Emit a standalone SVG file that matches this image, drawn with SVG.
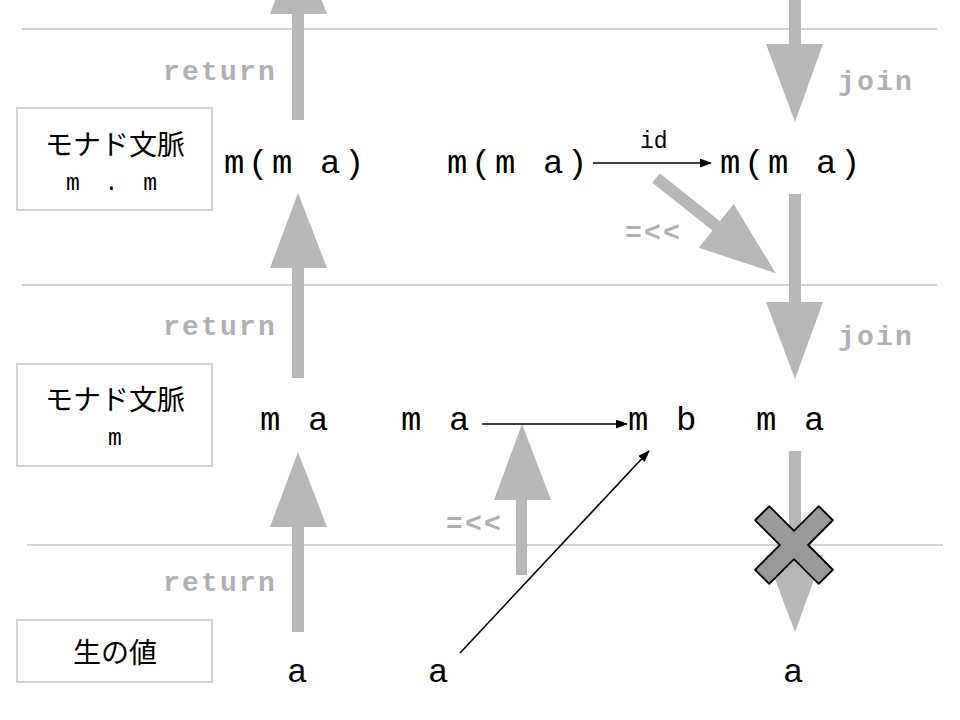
<svg xmlns="http://www.w3.org/2000/svg" width="960" height="720" viewBox="0 0 960 720">
<defs>
<style>
.lane{stroke:#d3d3d3;stroke-width:2;fill:none}
.box{fill:#fff;stroke:#d3d3d3;stroke-width:2}
.ga{fill:#b7b7b7}
.lbl{font-family:"Liberation Mono",monospace;font-weight:bold;fill:#b0b0b0;font-size:28px;letter-spacing:2.2px}
.t{font-family:"Liberation Mono",monospace;font-size:34px;letter-spacing:3.6px;fill:#000}
.jp{font-family:"Liberation Serif","Noto Sans CJK JP",sans-serif;font-size:28px;fill:#000;text-anchor:middle}
.bm{font-family:"Liberation Mono",monospace;font-size:23px;fill:#000}
.thin{stroke:#000;stroke-width:1.6;fill:none;marker-end:url(#ah)}
</style>
<marker id="ah" markerUnits="userSpaceOnUse" markerWidth="12" markerHeight="10" refX="11" refY="4.5" orient="auto">
<path d="M0,0 L12,4.5 L0,9 z" fill="#000"/>
</marker>
</defs>
<rect width="960" height="720" fill="#fff"/>
<g id="lanes">
<line class="lane" x1="22" y1="29" x2="937" y2="29"/>
<line class="lane" x1="22" y1="285" x2="937" y2="285"/>
<line class="lane" x1="27" y1="545" x2="943" y2="545"/>
</g>
<g id="connectors">
<g id="ret1"><rect class="ga" x="292" y="12" width="12" height="108"/><polygon class="ga" points="270,14 327,14 298,-61"/></g>
<g id="ret2"><rect class="ga" x="292" y="266" width="12" height="112"/><polygon class="ga" points="270,268 327,268 298,193"/></g>
<g id="ret3"><rect class="ga" x="292" y="525" width="12" height="107"/><polygon class="ga" points="270,527 327,527 298,452"/></g>
<g id="join1"><rect class="ga" x="789" y="0" width="12" height="46"/><polygon class="ga" points="766,44 823,44 795,122"/></g>
<g id="join2"><rect class="ga" x="789" y="194" width="12" height="110"/><polygon class="ga" points="766,302 823,302 795,379"/></g>
<g id="join3"><rect class="ga" x="789" y="451" width="12" height="106"/><polygon class="ga" points="766,555 823,555 795,632"/></g>
<g id="bind1" transform="translate(656,178) rotate(38.5)"><rect class="ga" x="0" y="-6" width="79" height="12"/><polygon class="ga" points="77,-28 77,28 153,0"/></g>
<g id="bind2"><rect class="ga" x="516" y="498" width="11" height="77"/><polygon class="ga" points="494,500 551,500 522,424"/></g>
<line class="thin" x1="593" y1="163" x2="711" y2="163"/>
<line class="thin" x1="482" y1="424" x2="627" y2="424"/>
<line class="thin" x1="460" y1="653" x2="649" y2="451"/>
</g>
<g id="labels">
<text class="lbl" x="163" y="80">return</text>
<text class="lbl" x="163" y="335">return</text>
<text class="lbl" x="163" y="591">return</text>
<text class="lbl" x="838" y="90">join</text>
<text class="lbl" x="838" y="345">join</text>
<text class="lbl" x="625" y="241">=&lt;&lt;</text>
<text class="lbl" x="446" y="532">=&lt;&lt;</text>
<text class="bm" x="640" y="148">id</text>
</g>
<g id="box1"><rect class="box" x="17" y="108" width="195" height="102"/><text class="jp" x="115" y="155">モナド文脈</text><text class="bm" x="66" y="190" letter-spacing="5.5">m . m</text></g>
<g id="box2"><rect class="box" x="17" y="364" width="195" height="102"/><text class="jp" x="115" y="410">モナド文脈</text><text class="bm" x="108" y="445">m</text></g>
<g id="box3"><rect class="box" x="17" y="620" width="195" height="62"/><text class="jp" x="115" y="663" font-size="30">生の値</text></g>
<g id="n-mma1"><text class="t" x="224" y="173">m(m a)</text></g>
<g id="n-mma2"><text class="t" x="447" y="173">m(m a)</text></g>
<g id="n-mma3"><text class="t" x="720" y="173">m(m a)</text></g>
<g id="n-ma1"><text class="t" x="260" y="430">m a</text></g>
<g id="n-ma2"><text class="t" x="401" y="430">m a</text></g>
<g id="n-mb"><text class="t" x="628" y="430">m b</text></g>
<g id="n-ma3"><text class="t" x="756" y="430">m a</text></g>
<g id="n-a1"><text class="t" x="287" y="682">a</text></g>
<g id="n-a2"><text class="t" x="428" y="682">a</text></g>
<g id="n-a3"><text class="t" x="783" y="682">a</text></g>
<g id="cross"><path transform="translate(794,545) rotate(45)" d="M10,-45 L10,-10 L45,-10 L45,10 L10,10 L10,45 L-10,45 L-10,10 L-45,10 L-45,-10 L-10,-10 L-10,-45 Z" fill="#999" stroke="#000" stroke-width="1.8" stroke-linejoin="round"/></g>
</svg>
